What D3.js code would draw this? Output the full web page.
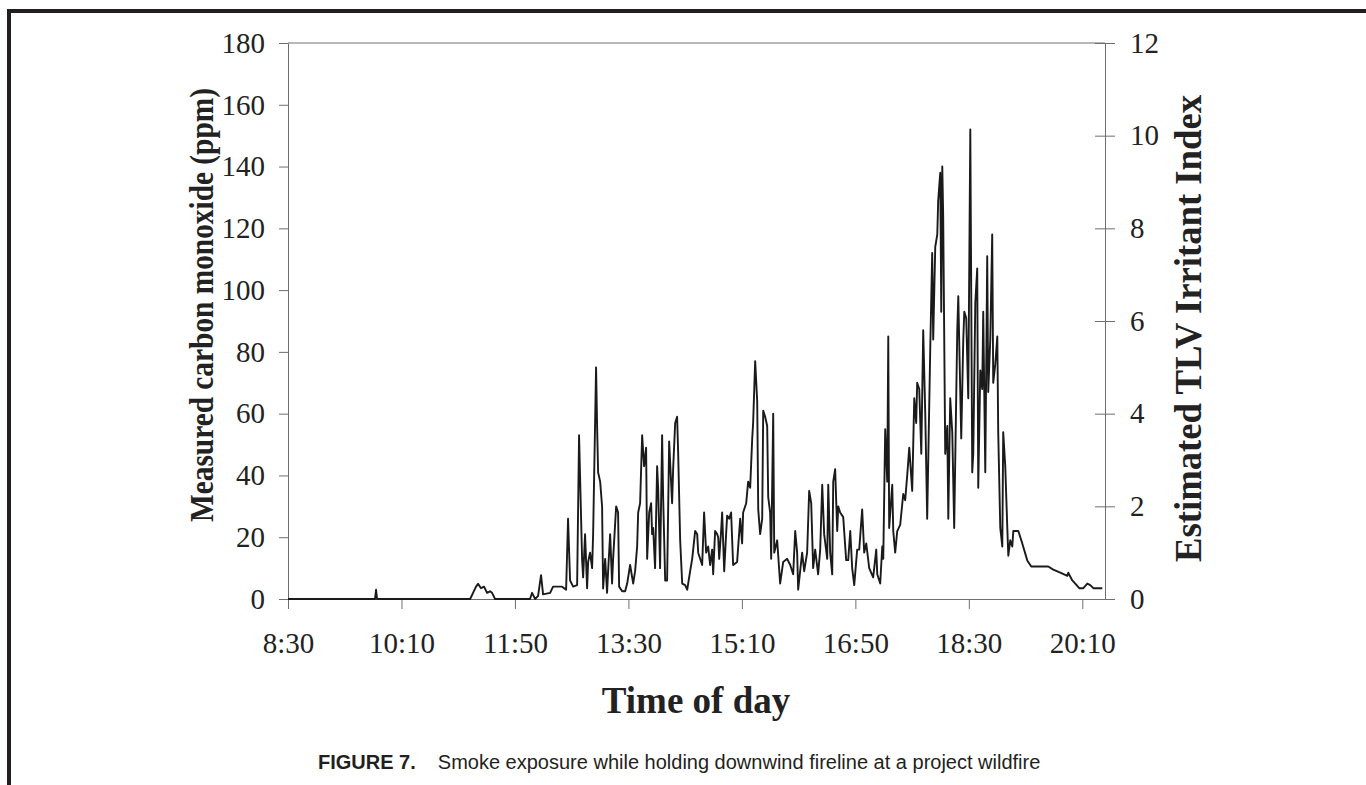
<!DOCTYPE html>
<html>
<head>
<meta charset="utf-8">
<script src="https://cdn.jsdelivr.net/npm/d3@7"></script>
<style>
  html, body { margin: 0; padding: 0; background: #fff; }
  svg { display: block; }
</style>
</head>
<body>
<svg id="chart" width="1366" height="785"></svg>
<script>
// ---- data ----
// time of each reading, in minutes after midnight
const minuteOfDay = [
  510.0, 586.7, 587.6, 588.5, 670.5, 673.1, 675.7, 677.5, 680.1, 682.8,
  685.4, 688.1, 689.8, 692.5, 723.3, 725.1, 727.8, 730.4, 733.0, 734.8,
  741.0, 743.6, 751.6, 755.1, 756.8, 758.6, 761.3, 764.8, 766.5, 769.2,
  770.1, 771.8, 773.6, 774.5, 776.2, 778.0, 778.9, 781.5, 782.4, 783.3,
  785.1, 786.8, 787.7, 789.5, 791.2, 792.1, 793.9, 795.6, 796.5, 799.2,
  800.9, 801.8, 804.5, 807.1, 808.9, 811.5, 814.2, 815.9, 817.7, 818.6,
  820.3, 822.1, 823.8, 825.6, 826.5, 828.3, 830.0, 830.9, 831.8, 833.5,
  835.3, 836.2, 837.9, 839.7, 840.6, 842.4, 844.1, 845.9, 848.5, 849.4,
  851.2, 852.9, 853.8, 855.6, 857.4, 860.0, 861.8, 864.4, 866.2, 868.8,
  870.6, 871.5, 875.0, 876.7, 878.5, 880.3, 882.0, 883.8, 884.7, 886.4,
  888.2, 889.1, 890.0, 891.7, 892.6, 894.4, 896.1, 897.0, 898.8, 900.5,
  902.3, 905.8, 908.5, 910.2, 911.1, 913.8, 915.5, 917.3, 919.1, 919.9,
  921.7, 923.5, 924.4, 926.1, 927.9, 928.8, 930.5, 932.3, 933.2, 934.9,
  935.8, 937.6, 938.5, 941.1, 943.7, 946.4, 949.9, 952.6, 955.2, 957.0,
  958.7, 959.6, 963.1, 964.9, 967.5, 969.3, 971.1, 972.8, 974.6, 977.2,
  979.0, 980.8, 982.5, 985.2, 986.1, 987.8, 989.6, 990.5, 992.2, 994.0,
  994.9, 996.6, 999.3, 1001.9, 1003.7, 1005.5, 1007.2, 1009.0, 1011.6, 1013.4,
  1016.0, 1017.8, 1019.6, 1022.2, 1025.7, 1028.4, 1029.3, 1031.9, 1033.7, 1034.6,
  1036.3, 1038.1, 1039.0, 1039.8, 1042.5, 1043.4, 1045.1, 1046.9, 1049.5, 1052.2,
  1053.9, 1055.7, 1057.5, 1060.1, 1061.9, 1063.6, 1064.5, 1066.3, 1068.1, 1069.8,
  1071.6, 1073.3, 1076.0, 1077.7, 1078.6, 1080.4, 1082.2, 1083.0, 1084.8, 1085.7,
  1086.6, 1087.4, 1089.2, 1091.0, 1091.9, 1093.6, 1095.4, 1097.1, 1099.8, 1100.7,
  1103.3, 1105.1, 1106.0, 1107.7, 1109.5, 1111.3, 1113.0, 1113.9, 1115.7, 1117.4,
  1118.3, 1120.1, 1121.8, 1122.7, 1124.5, 1126.2, 1127.1, 1128.9, 1130.6, 1131.5,
  1133.3, 1135.1, 1135.9, 1137.7, 1139.5, 1140.3, 1142.1, 1143.9, 1144.8, 1146.5,
  1148.3, 1149.2, 1151.8, 1153.6, 1157.1, 1161.5, 1165.0, 1180.0, 1184.4, 1190.6,
  1196.8, 1197.6, 1201.2, 1203.8, 1207.3, 1210.9, 1214.4, 1217.0, 1219.7, 1227.6
];
// measured carbon monoxide, ppm
const coPpm = [
  0, 0, 3, 0, 0, 2, 4, 4.9, 3.5, 4,
  2, 2.5, 2, 0, 0, 2, 0, 1, 7.7, 1.5,
  2, 4, 4, 3, 26, 6, 4, 4.5, 53, 12.6,
  7, 21, 3.5, 12, 15, 10, 21, 75, 56, 41,
  38, 30, 3.4, 13, 2, 9, 21, 5, 13, 30,
  28, 4, 2.5, 2.5, 5, 11, 5, 9, 17, 28,
  31, 53, 43, 49, 13, 28, 31, 21, 23, 10,
  43, 36, 10, 53, 33, 6, 6, 51, 31, 42,
  57, 59, 48, 19, 5, 4.5, 3, 9, 13, 22,
  21, 15, 11, 28, 15, 17, 11, 16, 8, 22,
  21, 20, 13, 22, 28, 9, 21, 27, 26, 28,
  11, 12, 26, 18, 28, 31, 38, 36, 52, 57,
  77, 64, 29, 21, 26, 61, 59, 56, 33, 28,
  13, 60, 15, 19, 5, 12, 13, 11, 8, 22,
  15, 3, 15, 9, 15, 35, 31, 10, 16, 8,
  16, 37, 21, 13, 37, 15, 8, 38, 42, 22,
  30, 28, 26.5, 12.6, 12.6, 22, 10, 4.5, 16, 16,
  29, 15, 18, 10, 7, 16, 8, 5, 17, 13,
  55, 38, 85, 23, 37, 22, 15, 22, 24, 34,
  32, 40, 49, 35, 65, 57, 70, 68, 47, 87,
  60, 26, 81, 112, 84, 114, 118, 129, 138, 93,
  140, 124, 47, 56, 26, 65, 54, 23, 87, 98,
  52, 84, 93, 91, 65, 152, 41, 47, 96, 107,
  36, 74, 68, 93, 41, 111, 67, 84, 118, 70,
  76, 85, 54, 23, 17, 54, 43, 23, 14, 19,
  17, 22, 22, 22, 18, 12.5, 10.5, 10.5, 9.5, 8.5,
  7.5, 8.5, 6, 5, 3.5, 3.5, 5, 4.5, 3.5, 3.5
];
// axis ticks
const timeTicks = [510, 610, 710, 810, 910, 1010, 1110, 1210];
const timeTickLabels = ["8:30", "10:10", "11:50", "13:30", "15:10", "16:50", "18:30", "20:10"];
const coTicks = [0, 20, 40, 60, 80, 100, 120, 140, 160, 180];
const tlvTicks = [0, 2, 4, 6, 8, 10, 12];

// ---- chart ----
(function () {
const svg = d3.select("#chart");
const mL = 288, mR = 1105, mT = 43, mB = 599;

const x = d3.scaleLinear().domain([510, 1230]).range([mL, mR]);
const y = d3.scaleLinear().domain([0, 180]).range([mB, mT]);
const yR = d3.scaleLinear().domain([0, 12]).range([mB, mT]);

// frame bars
svg.append("rect").attr("x", 7).attr("y", 9).attr("width", 1366 - 7).attr("height", 4).attr("fill", "#231f20");
svg.append("rect").attr("x", 7).attr("y", 9).attr("width", 4).attr("height", 785 - 9).attr("fill", "#231f20");

const axisColor = "#6e6e6e";
const serif = "'Liberation Serif', 'Times New Roman', serif";

// top border of plot
svg.append("line")
  .attr("x1", mL).attr("x2", mR).attr("y1", y(180)).attr("y2", y(180))
  .attr("stroke", axisColor).attr("stroke-width", 1);

// left axis
const gL = svg.append("g").attr("transform", `translate(${mL},0)`)
  .call(d3.axisLeft(y).tickValues(coTicks).tickSizeInner(9).tickSizeOuter(0).tickPadding(14));
// bottom axis
const gB = svg.append("g").attr("transform", `translate(0,${mB})`)
  .call(d3.axisBottom(x).tickValues(timeTicks).tickFormat((d, i) => timeTickLabels[i])
    .tickSizeInner(10).tickSizeOuter(0).tickPadding(0));
gB.selectAll("text").attr("y", 54).attr("dy", 0);
// right axis
const gR = svg.append("g").attr("transform", `translate(${mR},0)`)
  .call(d3.axisRight(yR).tickValues(tlvTicks).tickSizeInner(10).tickSizeOuter(0).tickPadding(15));
gR.selectAll(".tick line").attr("x1", -10).attr("x2", 10);

[gL, gB, gR].forEach(g => {
  g.selectAll(".domain").attr("stroke", axisColor).attr("stroke-width", 1);
  g.selectAll(".tick line").attr("stroke", axisColor).attr("stroke-width", 1);
  g.selectAll("text").attr("font-family", serif).attr("font-size", 29).attr("fill", "#222");
});

// data line
const series = minuteOfDay.map((m, i) => ({ m, v: coPpm[i] }));
svg.append("path")
  .datum(series)
  .attr("fill", "none")
  .attr("stroke", "#1a1a1a")
  .attr("stroke-width", 1.9)
  .attr("stroke-linejoin", "round")
  .attr("d", d3.line().x(d => x(d.m)).y(d => y(d.v)));

// axis titles
svg.append("text")
  .attr("transform", `translate(213,${(88 + 522) / 2}) rotate(-90)`)
  .attr("text-anchor", "middle")
  .attr("font-family", serif).attr("font-weight", "bold").attr("font-size", 33)
  .attr("textLength", 434).attr("lengthAdjust", "spacingAndGlyphs")
  .attr("fill", "#222")
  .text("Measured carbon monoxide (ppm)");

svg.append("text")
  .attr("transform", `translate(1201,${(95 + 562) / 2}) rotate(-90)`)
  .attr("text-anchor", "middle")
  .attr("font-family", serif).attr("font-weight", "bold").attr("font-size", 37)
  .attr("textLength", 467).attr("lengthAdjust", "spacingAndGlyphs")
  .attr("fill", "#222")
  .text("Estimated TLV Irritant Index");

svg.append("text")
  .attr("x", 696).attr("y", 713)
  .attr("text-anchor", "middle")
  .attr("font-family", serif).attr("font-weight", "bold").attr("font-size", 37)
  .attr("fill", "#222")
  .text("Time of day");

// caption
const cap = svg.append("text")
  .attr("x", 318).attr("y", 769)
  .attr("text-anchor", "start")
  .attr("font-family", "'Liberation Sans', Arial, sans-serif").attr("font-size", 20)
  .attr("fill", "#231f20");
cap.append("tspan").attr("font-weight", "bold").text("FIGURE 7.");
cap.append("tspan").attr("dx", 22).text("Smoke exposure while holding downwind fireline at a project wildfire");
})();
</script>
</body>
</html>
